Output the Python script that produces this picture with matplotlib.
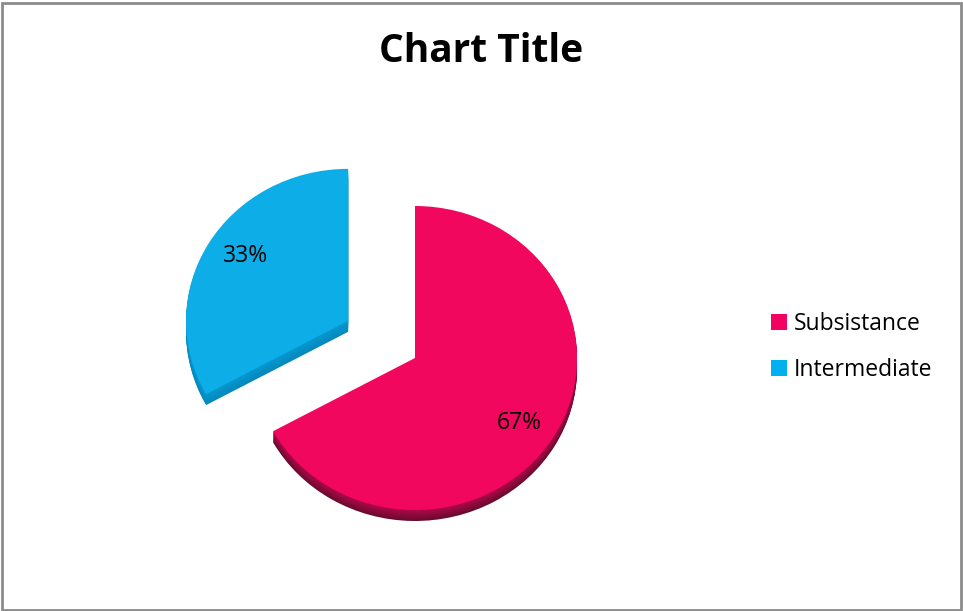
import matplotlib
matplotlib.use("Agg")
import matplotlib.pyplot as plt
import numpy as np
from matplotlib.colors import to_rgb
from matplotlib.patches import Patch

categories = ["Subsistance", "Intermediate"]
values = [67, 33]
top_colors = ["#F2075F", "#0DAEE8"]
side_top = ["#B00848", "#0598D0"]
side_bottom = ["#6A0A30", "#0489BC"]
legend_colors = ["#F20360", "#00B0F0"]
title = "Chart Title"

W, H = 963, 611
rx, ry = 162.0, 152.0
k = rx / ry              # stretch so a circle in data units renders as an ellipse
cx, cy_px = 415.0, 358.0
depth = 11
explode = [0.0, 0.48 * rx]   # pie offsets are in data units

plt.rcParams["font.family"] = ["Open Sans", "DejaVu Sans"]
fig = plt.figure(figsize=(W / 100, H / 100), dpi=100)
ax = fig.add_axes([0, 0, 1, 1])

def py(y):
    return (H - y) * k

def blend(c1, c2, t):
    a, b = np.array(to_rgb(c1)), np.array(to_rgb(c2))
    return tuple(a + (b - a) * t)

# extruded side walls: stacked copies of the pie, darkening downward
for d in range(depth, 0, -1):
    t = d / depth
    cols = [blend(side_top[i], side_bottom[i], t) for i in range(2)]
    ax.pie(values, colors=cols, startangle=90, counterclock=False,
           radius=rx, center=(cx, py(cy_px + d)), explode=explode,
           wedgeprops=dict(linewidth=0, antialiased=True))

# top faces
wedges, _ = ax.pie(values, colors=top_colors, startangle=90, counterclock=False,
                   radius=rx, center=(cx, py(cy_px)), explode=explode,
                   wedgeprops=dict(linewidth=0, antialiased=True))

# percentage labels
total = sum(values)
label_pos = [(519, 423), (245, 256)]
for v, (lx, ly) in zip(values, label_pos):
    ax.text(lx, py(ly), f"{v / total:.0%}", ha="center", va="center",
            fontsize=16.5, color="black")

ax.set_aspect("auto")
ax.set_xlim(0, W)
ax.set_ylim(0, H * k)
ax.axis("off")

fig.text(481 / W, 1 - 51 / H, title, ha="center", va="center",
         fontsize=28, fontweight="bold", color="black")

# legend
handles = [Patch(facecolor=c, edgecolor="none") for c in legend_colors]
fig.legend(handles, categories, loc="center left",
           bbox_to_anchor=(750 / W, 1 - 347 / H), frameon=False,
           fontsize=16.5, handlelength=0.7, handleheight=0.7,
           handletextpad=0.3, labelspacing=0.95)

# outer border
fig.patches.append(plt.Rectangle((1.5 / W, 1.5 / H), (W - 4) / W, (H - 4) / H,
                                 transform=fig.transFigure, fill=False,
                                 edgecolor="#8C8C8C", linewidth=2))

fig.savefig("out.png", dpi=100, facecolor="white")
